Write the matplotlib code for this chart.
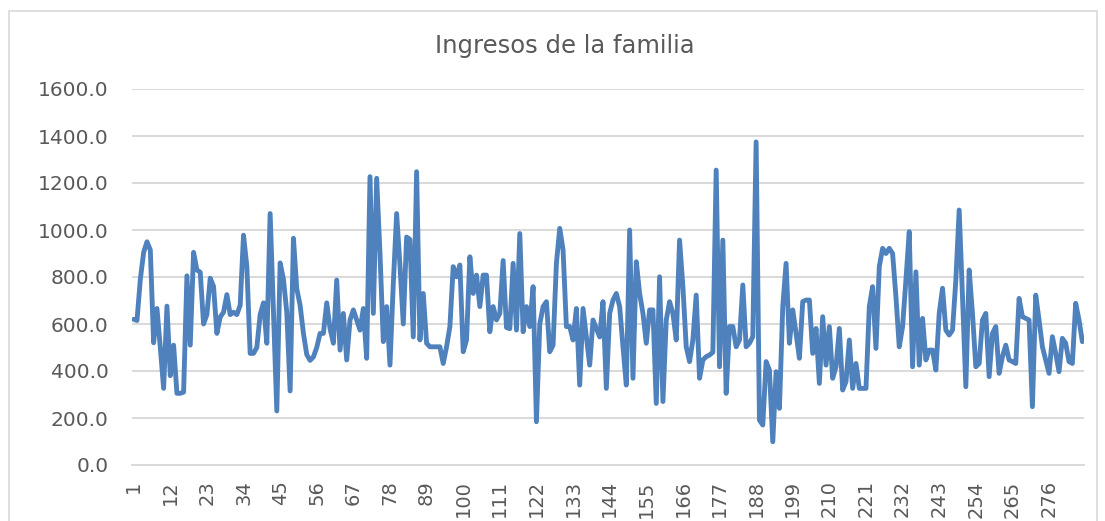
import matplotlib
matplotlib.use("Agg")
import matplotlib.pyplot as plt
from matplotlib.patches import Rectangle

title = "Ingresos de la familia"
ingresos = [
    620, 615, 790, 905, 950, 915, 520, 666, 500, 326,
    676, 380, 510, 305, 305, 310, 805, 510, 905, 830,
    820, 600, 640, 795, 760, 560, 630, 650, 725, 640,
    650, 640, 680, 978, 845, 475, 475, 500, 640, 690,
    518, 1070, 650, 230, 860, 790, 650, 315, 965, 750,
    680, 560, 470, 445, 460, 500, 560, 560, 690, 580,
    518, 787, 489, 645, 447, 617, 660, 617, 574, 666,
    454, 1227, 645, 1220, 900, 525, 674, 425, 772, 1070,
    850, 600, 970, 960, 545, 1248, 532, 730, 518, 503,
    503, 503, 503, 432, 503, 589, 844, 801, 851, 482,
    532, 886, 730, 808, 674, 808, 808, 567, 674, 617,
    645, 870, 585, 580, 858, 574, 985, 567, 674, 589,
    759, 184, 600, 674, 695, 482, 510, 858, 1007, 915,
    589, 589, 532, 666, 340, 666, 546, 425, 617, 581,
    545, 695, 326, 645, 702, 730, 674, 503, 340, 1000,
    369, 865, 730, 645, 518, 660, 660, 262, 801, 270,
    617, 695, 645, 532, 957, 759, 503, 440, 532, 723,
    369, 447, 461, 468, 480, 1255, 418, 957, 305, 589,
    589, 503, 532, 766, 503, 518, 546, 1375, 191, 170,
    440, 404, 99, 397, 241, 674, 858, 518, 660, 560,
    454, 695, 702, 702, 475, 581, 347, 631, 425, 589,
    369, 418, 581, 319, 355, 532, 326, 432, 326, 326,
    326, 674, 759, 496, 844, 922, 900, 922, 900, 716,
    503, 589, 787, 993, 418, 822, 425, 624, 447, 489,
    489, 404, 645, 752, 574, 553, 574, 787, 1085, 716,
    333, 830, 645, 418, 432, 617, 645, 376, 560, 589,
    390, 461, 510, 447, 440, 432, 709, 631, 624, 617,
    248, 723, 617, 503, 447, 390, 546, 475, 397, 539,
    518, 440, 432, 688, 617, 525,
]
categorias = list(range(1, len(ingresos) + 1))
x_ticks = categorias[::11]
y_ticks = [0, 200, 400, 600, 800, 1000, 1200, 1400, 1600]

plt.rcParams['font.family'] = ['DejaVu Sans']
W, H = 1105, 521
fig = plt.figure(figsize=(W / 100, H / 100), dpi=100)
fig.patch.set_facecolor('white')

# chart-area border
fig.patches.append(Rectangle((9 / W, -0.01), 1088 / W, 1 - 11 / H + 0.01,
                             transform=fig.transFigure, fill=False,
                             edgecolor='#d9d9d9', linewidth=1.2))

ax = fig.add_axes([132 / W, 1 - 465 / H, (1084 - 132) / W, (465 - 89) / H])
ax.plot(categorias, ingresos, color='#4f81bd', linewidth=3.5,
        solid_joinstyle='round', solid_capstyle='round')

ax.set_xlim(0.5, len(ingresos) + 0.5)
ax.set_ylim(0, 1600)
ax.set_yticks(y_ticks)
ax.set_yticklabels([f"{v:.1f}" for v in y_ticks])
ax.set_xticks(x_ticks)
ax.set_xticklabels([str(v) for v in x_ticks], rotation=90)

ax.grid(axis='y', color='#d9d9d9', linewidth=1.4)
ax.set_axisbelow(True)
for s in ['top', 'right', 'left']:
    ax.spines[s].set_visible(False)
ax.spines['bottom'].set_color('#d9d9d9')
ax.spines['bottom'].set_linewidth(1.4)
ax.tick_params(axis='y', length=0, pad=17, labelsize=14.5, labelcolor='#595959')
ax.tick_params(axis='x', length=0, pad=11, labelsize=14, labelcolor='#595959')

fig.text(565 / W, 1 - 46 / H, title, ha='center', va='center',
         fontsize=17.5, color='#595959')

fig.savefig('out.png', dpi=100)
